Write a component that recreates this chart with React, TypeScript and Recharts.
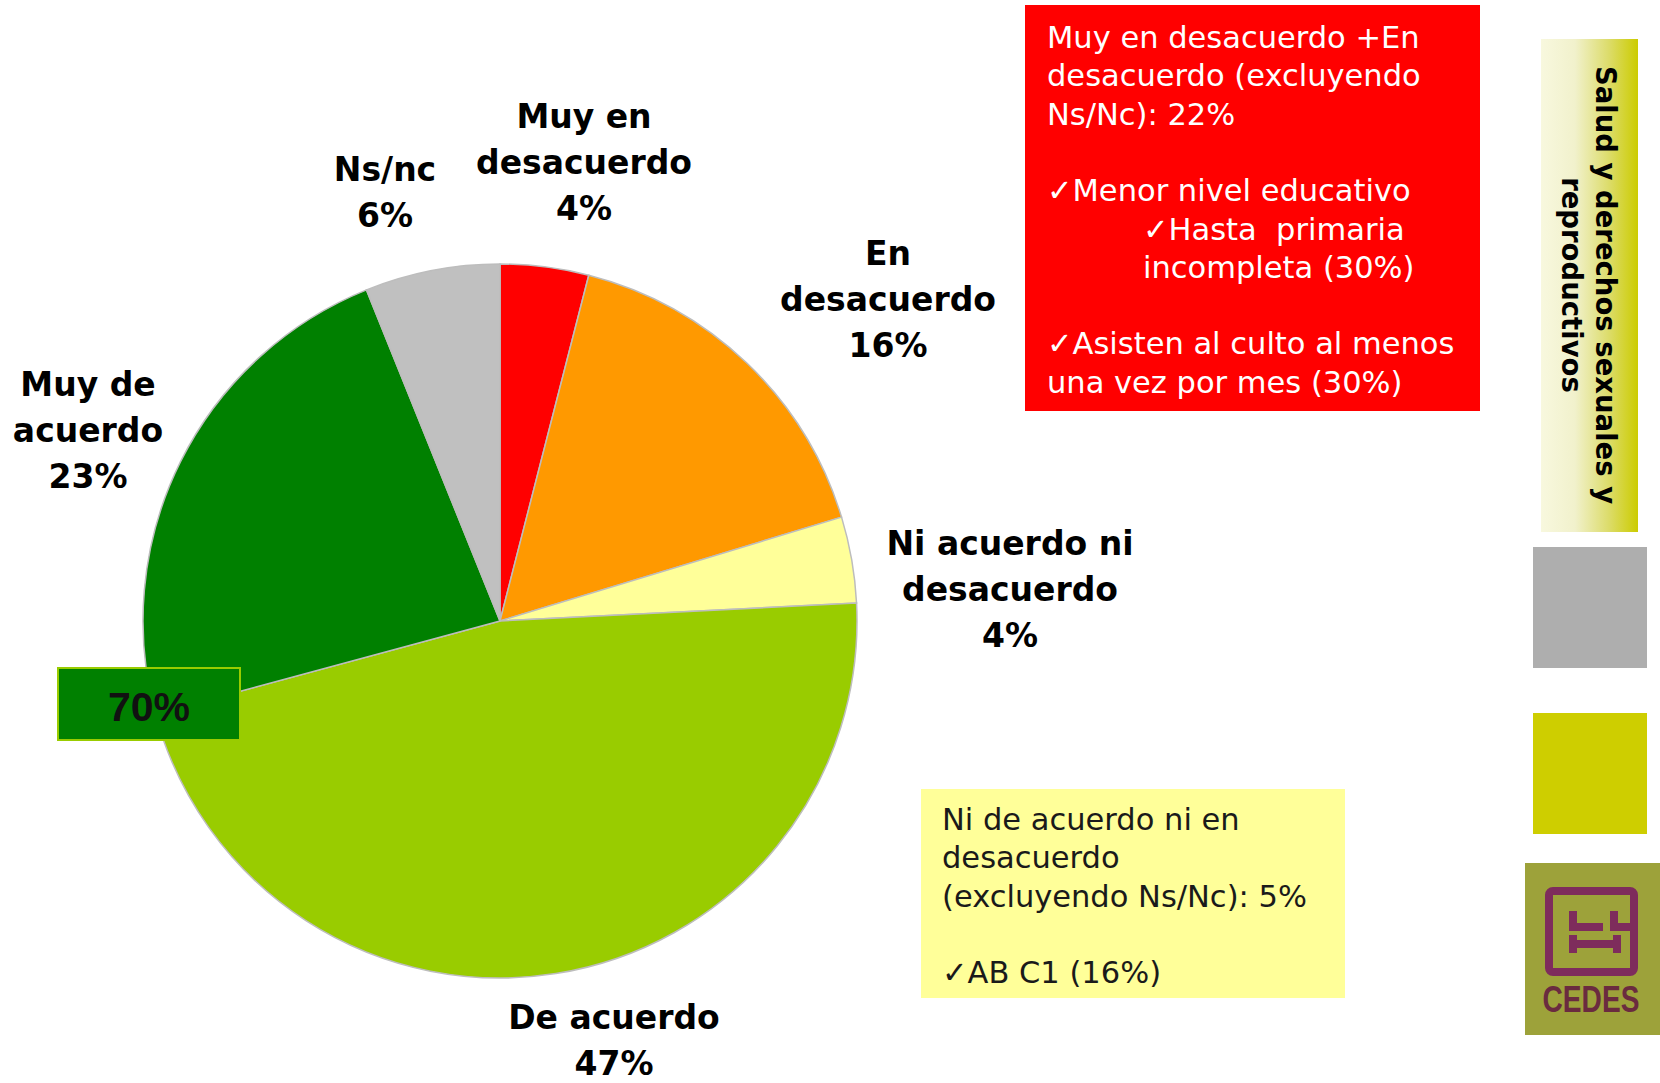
import { PieChart, Pie, Cell } from 'recharts';

document.body.style.margin = '0';

const categories = [
  'Muy en desacuerdo',
  'En desacuerdo',
  'Ni acuerdo ni desacuerdo',
  'De acuerdo',
  'Muy de acuerdo',
  'Ns/nc',
];
const values = [4.0, 16.3, 3.9, 46.6, 23.1, 6.1];
const labelLines = [
  ['Muy en', 'desacuerdo'],
  ['En', 'desacuerdo'],
  ['Ni acuerdo ni', 'desacuerdo'],
  ['De acuerdo'],
  ['Muy de', 'acuerdo'],
  ['Ns/nc'],
];

const redNote = [
  'Muy en desacuerdo +En',
  'desacuerdo (excluyendo',
  'Ns/Nc): 22%',
  '',
  '✓Menor nivel educativo',
  '',
  '',
  '',
  '✓Asisten al culto al menos',
  'una vez por mes (30%)',
];
const redNoteIndented = ['✓Hasta  primaria', 'incompleta (30%)'];
const yellowNote = [
  'Ni de acuerdo ni en',
  'desacuerdo',
  '(excluyendo Ns/Nc): 5%',
  '',
  '✓AB C1 (16%)',
];
const bannerLines = ['Salud y derechos sexuales y', 'reproductivos'];

const sliceColors = ['#FF0000', '#FF9900', '#FFFF99', '#99CC00', '#008000', '#C0C0C0'];
const labelAnchors = [
  { x: 584, y: 128 },
  { x: 888, y: 265 },
  { x: 1010, y: 555 },
  { x: 614, y: 1029 },
  { x: 88, y: 396 },
  { x: 385, y: 181 },
];

const pieData = categories.map((name, i) => ({ name, value: values[i] }));
const agreeTotal = Math.round(values[3] + values[4]);

const labelFont = '"DejaVu Sans", Verdana, sans-serif';

function renderLabel(props: any) {
  const i = props.index;
  const a = labelAnchors[i];
  const lines = [...labelLines[i], `${Math.round(values[i])}%`];
  return (
    <text
      key={`lbl-${i}`}
      x={a.x}
      y={a.y}
      textAnchor="middle"
      fontFamily={labelFont}
      fontWeight="bold"
      fontSize={33}
      fill="#000"
    >
      {lines.map((l, j) => (
        <tspan key={j} x={a.x} dy={j === 0 ? 0 : 46}>
          {l}
        </tspan>
      ))}
    </text>
  );
}

function NoteLines({ lines, x, y, fill }: { lines: string[]; x: number; y: number; fill: string }) {
  return (
    <text x={x} y={y} fontFamily={labelFont} fontSize={30.5} fill={fill} style={{ whiteSpace: 'pre' }}>
      {lines.map((l, j) => (
        <tspan key={j} x={x} y={y + j * 38.3}>
          {l || ' '}
        </tspan>
      ))}
    </text>
  );
}

export default function App() {
  return (
    <div style={{ position: 'relative', width: 1660, height: 1083, background: '#fff' }}>
      <div style={{ position: 'absolute', left: 0, top: 0 }}>
        <PieChart width={1660} height={1083} margin={{ top: 0, right: 0, bottom: 0, left: 0 }}>
          <Pie
            data={pieData}
            dataKey="value"
            nameKey="name"
            cx={500}
            cy={621}
            outerRadius={357}
            startAngle={90}
            endAngle={-270}
            stroke="#bdbdbd"
            strokeWidth={1.5}
            label={renderLabel}
            labelLine={false}
            isAnimationActive={false}
          >
            {pieData.map((d, i) => (
              <Cell key={d.name} fill={sliceColors[i]} />
            ))}
          </Pie>
        </PieChart>
      </div>
      <svg
        width={1660}
        height={1083}
        style={{ position: 'absolute', left: 0, top: 0, pointerEvents: 'none' }}
      >
        <defs>
          <linearGradient id="banner" x1="0" y1="0" x2="1" y2="0">
            <stop offset="0" stopColor="#f8f8de" />
            <stop offset="0.35" stopColor="#f1f1cc" />
            <stop offset="0.7" stopColor="#dcdc6a" />
            <stop offset="1" stopColor="#cccc00" />
          </linearGradient>
        </defs>

        {/* 70% summary box */}
        <rect x={58} y={668} width={182} height={72} fill="#008000" stroke="#99CC00" strokeWidth={2} />
        <text
          x={149}
          y={721}
          textAnchor="middle"
          fontFamily='"Liberation Sans", Arial, sans-serif'
          fontWeight="bold"
          fontSize={41}
          fill="#111"
        >
          {agreeTotal}%
        </text>

        {/* red note */}
        <rect x={1025} y={5} width={455} height={406} fill="#FF0000" />
        <NoteLines lines={redNote} x={1047} y={48} fill="#fff" />
        <NoteLines lines={redNoteIndented} x={1143} y={240} fill="#fff" />

        {/* yellow note */}
        <rect x={921} y={789} width={424} height={209} fill="#FFFF99" />
        <NoteLines lines={yellowNote} x={942} y={830} fill="#1a1a1a" />

        {/* side banner */}
        <rect x={1541} y={39} width={97} height={493} fill="url(#banner)" />
        <text
          transform="translate(1596 285) rotate(90)"
          textAnchor="middle"
          fontFamily={labelFont}
          fontWeight="bold"
          fontSize={27.5}
          fill="#000"
        >
          <tspan x={0} y={0}>{bannerLines[0]}</tspan>
          <tspan x={0} y={34}>{bannerLines[1]}</tspan>
        </text>
        <rect x={1533} y={547} width={114} height={121} fill="#AEAEAE" />
        <rect x={1533} y={713} width={114} height={121} fill="#CECE00" />

        {/* logo */}
        <rect x={1525} y={863} width={135} height={172} fill="#9DA23A" />
        <g fill="none" stroke="#7E2C5C" strokeWidth={8}>
          <rect x={1549} y={891} width={85} height={81} rx={4} />
        </g>
        <g fill="#7E2C5C">
          <rect x={1569} y={911} width={8} height={20} />
          <rect x={1569} y={923} width={34} height={8} />
          <rect x={1610} y={911} width={8} height={20} />
          <rect x={1610} y={923} width={22} height={8} />
          <rect x={1569} y={940} width={52} height={8} />
          <rect x={1569} y={935} width={8} height={18} />
          <rect x={1613} y={935} width={8} height={18} />
        </g>
        <text
          transform="translate(1591 1012) scale(0.76 1)"
          textAnchor="middle"
          fontFamily='"Liberation Sans", Arial, sans-serif'
          fontWeight="bold"
          fontSize={37}
          fill="#6A2B3F"
        >
          CEDES
        </text>
      </svg>
    </div>
  );
}
